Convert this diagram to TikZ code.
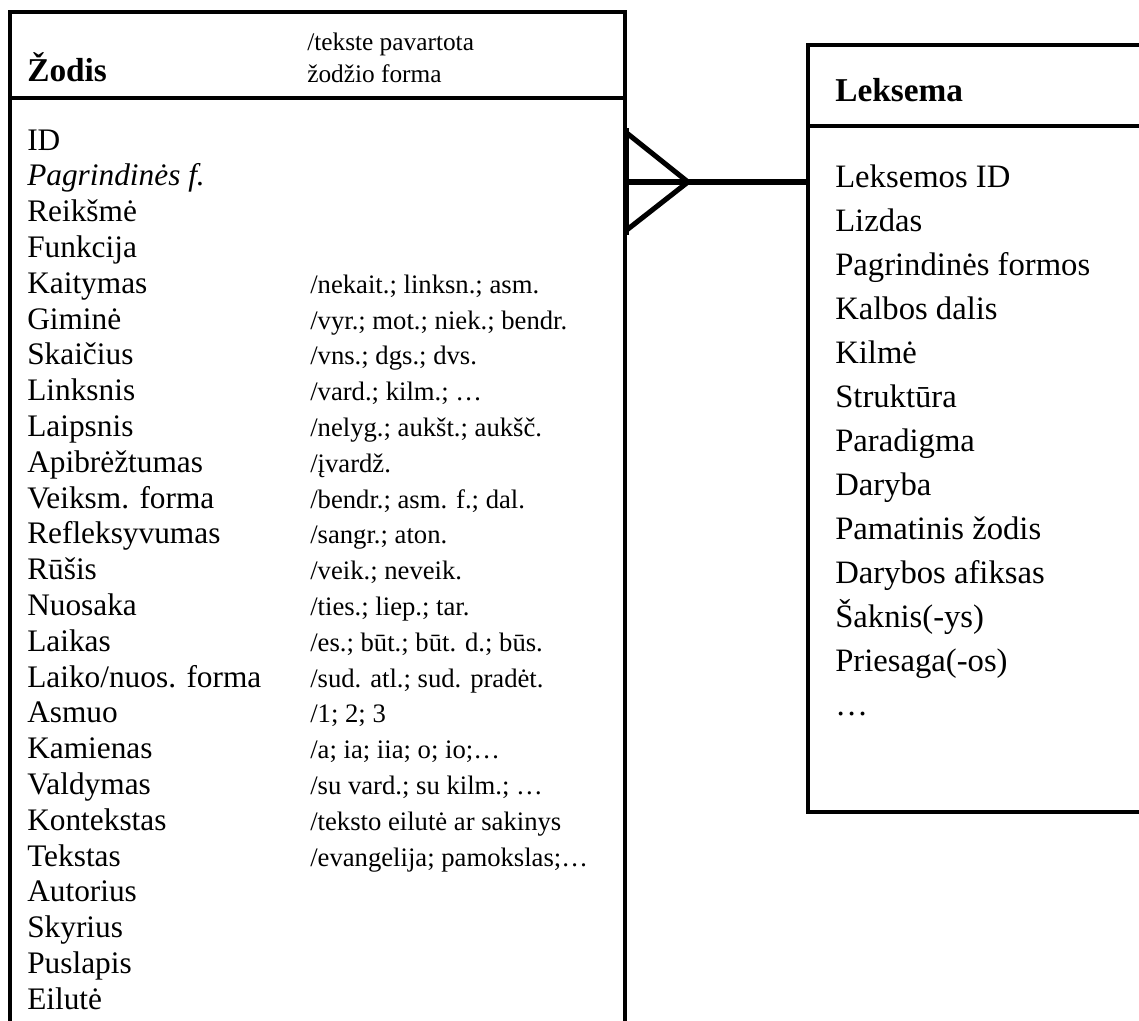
\documentclass[tikz,border=0pt]{standalone}
\usepackage{fontspec}
\setmainfont{Liberation Serif}
\usetikzlibrary{fit}

\begin{document}
\begin{tikzpicture}[
  x=0.75pt, y=-0.75pt,
  entity/.style={draw, line width=2.6pt, inner sep=0pt},
  title/.style={anchor=base west, inner sep=0pt, font=\fontsize{25}{29}\selectfont\bfseries},
  attr/.style={anchor=base west, inner sep=0pt, font=\fontsize{23.5}{27}\selectfont},
  note/.style={anchor=base west, inner sep=0pt, font=\fontsize{20}{24}\selectfont},
  lattr/.style={anchor=base west, inner sep=0pt, font=\fontsize{24.5}{29}\selectfont},
  crow/.style={line width=3.8pt}
]
  \useasboundingbox (0,0) rectangle (1139,1021);

  % entities
  \node[entity, fit={(10,12) (625,1060)}] (zodis) {};
  \node[entity, fit={(808,45) (1180,812)}] (leksema) {};
  \draw[line width=2.6pt] (zodis.west |- 0,98) -- (zodis.east |- 0,98);
  \draw[line width=2.6pt] (leksema.west |- 0,126) -- (leksema.east |- 0,126);

  \node[title] (zodisT) at (27,81) {Žodis};
  \node[note, font=\fontsize{19}{23}\selectfont] (zodisN1) at (307,50) {/tekste pavartota};
  \node[note, font=\fontsize{19}{23}\selectfont] (zodisN2) at (307,82) {žodžio forma};
  \node[title] (leksemaT) at (835,101) {Leksema};

  % attributes
  \foreach \t [count=\i from 0] in {ID, {\textit{Pagrindinės f.}}, Reikšmė, Funkcija,
      Kaitymas, Giminė, Skaičius, Linksnis, Laipsnis, Apibrėžtumas, Veiksm. forma,
      Refleksyvumas, Rūšis, Nuosaka, Laikas, Laiko/nuos. forma, Asmuo, Kamienas,
      Valdymas, Kontekstas, Tekstas, Autorius, Skyrius, Puslapis, Eilutė}
    \node[attr] (z\i) at (27,{150+35.8*\i}) {\t};

  \foreach \t [count=\i from 4] in {{/nekait.; linksn.; asm.}, {/vyr.; mot.; niek.; bendr.},
      {/vns.; dgs.; dvs.}, {/vard.; kilm.; \ldots}, {/nelyg.; aukšt.; aukšč.}, {/įvardž.},
      {/bendr.; asm. f.; dal.}, {/sangr.; aton.}, {/veik.; neveik.}, {/ties.; liep.; tar.},
      {/es.; būt.; būt. d.; būs.}, {/sud. atl.; sud. pradėt.}, {/1; 2; 3},
      {/a; ia; iia; o; io;\ldots}, {/su vard.; su kilm.; \ldots}, {/teksto eilutė ar sakinys},
      {/evangelija; pamokslas;\ldots}}
    \node[note] (zn\i) at (310,{150+35.8*\i}) {\t};

  \foreach \t [count=\i from 0] in {Leksemos ID, Lizdas, Pagrindinės formos, Kalbos dalis,
      Kilmė, Struktūra, Paradigma, Daryba, Pamatinis žodis, Darybos afiksas,
      Šaknis(-ys), Priesaga(-os), {\ldots}}
    \node[lattr] (l\i) at (835,{187+44*\i}) {\t};

  % relation
  \coordinate (tip) at (688,182);
  \draw[crow] (zodis.east |- 0,128) -- (zodis.east |- 0,235);
  \draw[crow] (zodis.east |- 0,133) -- (tip) -- (zodis.east |- 0,230);
  \draw[crow] (zodis.east |- tip) -- (leksema.west |- tip);
\end{tikzpicture}
\end{document}
